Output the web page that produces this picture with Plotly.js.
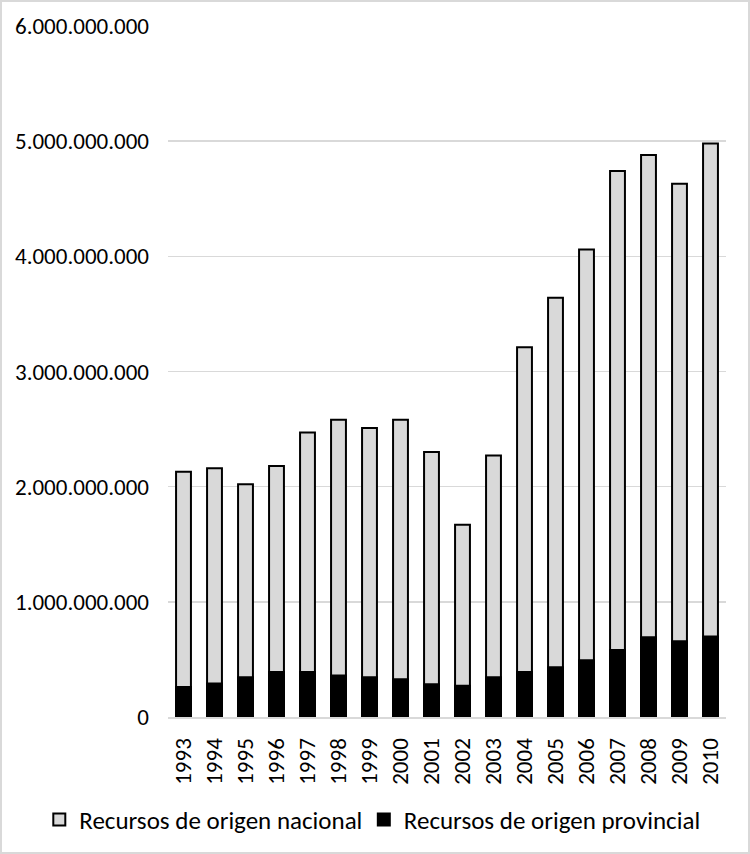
<!DOCTYPE html>
<html>
<head>
<meta charset="utf-8">
<script src="https://cdn.plot.ly/plotly-3.0.1.min.js"></script>
<style>
  body { margin: 0; background: #fff; }
  #chart { width: 746px; height: 850px; border: 2px solid #d9d9d9; }
</style>
</head>
<body>
<div id="chart"></div>
<script>
var years = ['1993', '1994', '1995', '1996', '1997', '1998', '1999', '2000', '2001',
             '2002', '2003', '2004', '2005', '2006', '2007', '2008', '2009', '2010'];

// recursos de origen nacional (total bar, grey)
var nacional = [2.13e9, 2.16e9, 2.02e9, 2.18e9, 2.47e9, 2.58e9, 2.51e9, 2.58e9, 2.30e9,
                1.67e9, 2.27e9, 3.21e9, 3.64e9, 4.06e9, 4.74e9, 4.88e9, 4.63e9, 4.98e9];

// recursos de origen provincial (black, drawn on top)
var provincial = [0.26e9, 0.29e9, 0.345e9, 0.39e9, 0.39e9, 0.36e9, 0.345e9, 0.327e9, 0.284e9,
                  0.272e9, 0.345e9, 0.39e9, 0.431e9, 0.492e9, 0.582e9, 0.692e9, 0.657e9, 0.70e9];

var fontFamily = 'Carlito, Lato, sans-serif';
var tickFont = { family: fontFamily, size: 23, color: '#000' };
var legendFont = { family: fontFamily, size: 25, color: '#000' };

var data = [
  {
    type: 'bar',
    name: 'Recursos de origen nacional',
    x: years,
    y: nacional,
    width: 0.48,
    marker: { color: '#d9d9d9', line: { color: '#000', width: 2 } },
    legend: 'legend',
    hoverinfo: 'x+y'
  },
  {
    type: 'bar',
    name: 'Recursos de origen provincial',
    x: years,
    y: provincial,
    width: 0.48,
    marker: { color: '#000', line: { color: '#000', width: 2 } },
    legend: 'legend2',
    hoverinfo: 'x+y'
  }
];

var layout = {
  width: 746,
  height: 850,
  margin: { l: 166, r: 22, t: 24, b: 135, autoexpand: false },
  barmode: 'overlay',
  separators: ',.',
  paper_bgcolor: '#fff',
  plot_bgcolor: '#fff',
  showlegend: true,
  xaxis: {
    type: 'category',
    tickangle: -90,
    tickfont: tickFont,
    ticks: '',
    showgrid: false,
    showline: true,
    linecolor: '#d9d9d9',
    linewidth: 2,
    automargin: false,
    ticklabelstandoff: 10
  },
  yaxis: {
    range: [0, 6e9],
    dtick: 1e9,
    tickformat: ',d',
    tickfont: tickFont,
    showgrid: true,
    gridcolor: '#d9d9d9',
    gridwidth: 1.5,
    zeroline: false,
    showline: false,
    ticks: '',
    automargin: false,
    ticklabelstandoff: 18
  },
  legend: {
    xref: 'container',
    yref: 'container',
    x: 0.05,
    xanchor: 'left',
    y: 0.038,
    yanchor: 'middle',
    font: legendFont,
    itemwidth: 30
  },
  legend2: {
    xref: 'container',
    yref: 'container',
    x: 0.485,
    xanchor: 'left',
    y: 0.038,
    yanchor: 'middle',
    font: legendFont,
    itemwidth: 30
  }
};

Plotly.newPlot('chart', data, layout, { displayModeBar: false, staticPlot: true });
</script>
</body>
</html>
